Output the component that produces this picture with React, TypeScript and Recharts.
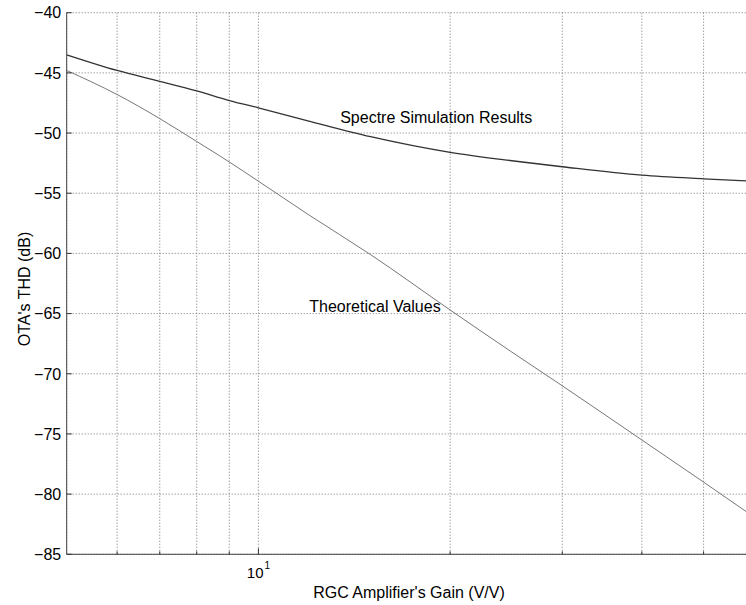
import { LineChart, Line, XAxis, YAxis, CartesianGrid, ReferenceDot } from 'recharts';

// RGC amplifier gain (V/V), log axis
const gains = [5, 6, 7, 8, 9, 10, 12, 15, 20, 25, 30, 40, 50, 60];
// OTA's THD in dB
const spectre = [-43.5, -44.8, -45.7, -46.5, -47.3, -47.9, -49.0, -50.3, -51.6, -52.3, -52.8, -53.5, -53.8, -54.0];
const theoretical = [-44.8, -46.8, -48.8, -50.7, -52.4, -54.0, -56.8, -60.1, -64.7, -68.2, -71.0, -75.5, -79.0, -81.9];

const xTicks = [6, 7, 8, 9, 10, 20, 30, 40, 50, 60];
const yTicks = [-85, -80, -75, -70, -65, -60, -55, -50, -45, -40];

const FONT = '"Liberation Sans", Arial, Helvetica, sans-serif';

const data = gains.map((g, i) => ({ gain: g, spectre: spectre[i], theoretical: theoretical[i] }));

function XTick(props: any) {
    const { x, y, payload } = props;
    const major = payload.value === 10;
    return (
        <g>
            <line x1={x} y1={y} x2={x} y2={y - (major ? 6 : 3)} stroke="#333" />
            {major && (
                <text x={x - 11.6} y={y + 23.7} fontFamily={FONT} fontSize={15} fill="#000">
                    10
                    <tspan dx={1} dy={-9} fontSize={10}>1</tspan>
                </text>
            )}
        </g>
    );
}

function YTick(props: any) {
    const { x, y, payload } = props;
    return (
        <g>
            <line x1={x} y1={y} x2={x + 5} y2={y} stroke="#333" />
            <text x={x - 5.5} y={y} dy="0.36em" textAnchor="end" fontFamily={FONT} fontSize={16} fill="#000">
                {'\u2212' + Math.abs(payload.value)}
            </text>
        </g>
    );
}

const annotation = (label: string) => (p: any) => (
    <text x={p.cx} y={p.cy} dy="0.36em" fontFamily={FONT} fontSize={16} fill="#000">
        {label}
    </text>
);

export default function App() {
    return (
        <div style={{ position: 'fixed', left: 0, top: 0, width: 746, height: 605, overflow: 'hidden', background: '#fff' }}>
            <LineChart width={768} height={605} data={data} margin={{ top: 12.7, right: 14, bottom: 0, left: 0 }}>
                <CartesianGrid stroke="#777" strokeDasharray="1 2" />
                <XAxis
                    dataKey="gain"
                    type="number"
                    scale="log"
                    domain={[5, 60]}
                    allowDataOverflow
                    ticks={xTicks}
                    tick={<XTick />}
                    tickLine={false}
                    tickSize={0}
                    tickMargin={0}
                    height={50.7}
                    axisLine={{ stroke: '#444' }}
                    interval={0}
                    label={{
                        content: () => (
                            <text x={409} y={592} dy="0.36em" textAnchor="middle" fontFamily={FONT} fontSize={16} fill="#000">
                                RGC Amplifier's Gain (V/V)
                            </text>
                        ),
                    }}
                />
                <YAxis
                    type="number"
                    domain={[-85, -40]}
                    ticks={yTicks}
                    tick={<YTick />}
                    tickLine={false}
                    tickSize={0}
                    tickMargin={0}
                    width={66.7}
                    axisLine={{ stroke: '#444' }}
                    interval={0}
                    label={{
                        content: () => (
                            <text
                                x={24}
                                y={289}
                                dy="0.36em"
                                textAnchor="middle"
                                transform="rotate(-90 24 289)"
                                fontFamily={FONT}
                                fontSize={16}
                                fill="#000"
                            >
                                OTA's THD (dB)
                            </text>
                        ),
                    }}
                />
                <Line
                    dataKey="spectre"
                    type="monotone"
                    stroke="#333"
                    strokeWidth={1.3}
                    dot={false}
                    isAnimationActive={false}
                />
                <Line
                    dataKey="theoretical"
                    type="monotone"
                    stroke="#777"
                    strokeWidth={1}
                    dot={false}
                    isAnimationActive={false}
                />
                <ReferenceDot x={13.44} y={-48.66} r={0} shape={annotation('Spectre Simulation Results')} />
                <ReferenceDot x={12.02} y={-64.36} r={0} shape={annotation('Theoretical Values')} />
            </LineChart>
        </div>
    );
}
